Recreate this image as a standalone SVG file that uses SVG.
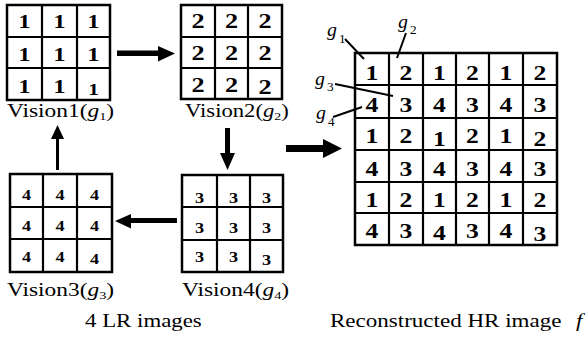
<svg xmlns="http://www.w3.org/2000/svg" width="587" height="338" viewBox="0 0 587 338">
<style>
.g{fill:#fff;stroke:#000;stroke-width:2.5}
.l{stroke:#000;stroke-width:2.2;fill:none}
.d{font-family:'Liberation Serif','Times New Roman','DejaVu Serif',serif;font-weight:bold;text-anchor:middle;fill:#000}
.t{font-family:'Liberation Serif','Times New Roman','DejaVu Serif',serif;font-size:18px;fill:#000}
.i{font-style:italic}
.ar{fill:#000}
.lead{stroke:#000;stroke-width:2;fill:none}
</style>
<rect width="587" height="338" fill="#fff"/>
<g id="vision1">
<rect class="g" x="7" y="5" width="103" height="95"/>
<path class="l" d="M42 5V100M77 5V100M7 37H110M7 68H110"/>
<g class="d" font-size="19">
<text transform="translate(24.5,28) scale(1.3,1)">1</text>
<text transform="translate(59.5,28) scale(1.3,1)">1</text>
<text transform="translate(93.5,28) scale(1.3,1)">1</text>
<text transform="translate(24.5,61) scale(1.3,1)">1</text>
<text transform="translate(59.5,61) scale(1.3,1)">1</text>
<text transform="translate(93.5,61) scale(1.3,1)">1</text>
<text transform="translate(24.5,93) scale(1.3,1)">1</text>
<text transform="translate(59.5,93) scale(1.3,1)">1</text>
<text transform="translate(93.5,95) scale(1.25,1)" font-size="17">1</text>
</g>
<text class="t" transform="translate(7,117) scale(1.3,1)">Vision1(<tspan class="i">g</tspan><tspan font-size="11" dy="3">1</tspan><tspan dy="-3">)</tspan></text>
</g>
<g id="vision2">
<rect class="g" x="181" y="5" width="101" height="94"/>
<path class="l" d="M215 5V99M248 5V99M181 37H282M181 68H282"/>
<g class="d" font-size="21">
<text transform="translate(198,28) scale(1.25,1)">2</text>
<text transform="translate(231.5,28) scale(1.25,1)">2</text>
<text transform="translate(265,28) scale(1.25,1)">2</text>
<text transform="translate(198,60) scale(1.25,1)">2</text>
<text transform="translate(231.5,60) scale(1.25,1)">2</text>
<text transform="translate(265,60) scale(1.25,1)">2</text>
<text transform="translate(198,92) scale(1.25,1)">2</text>
<text transform="translate(231.5,92) scale(1.25,1)">2</text>
<text transform="translate(265,94) scale(1.25,1)">2</text>
</g>
<text class="t" transform="translate(185,117) scale(1.26,1)">Vision2(<tspan class="i">g</tspan><tspan font-size="11" dy="3">2</tspan><tspan dy="-3">)</tspan></text>
</g>
<g id="vision3">
<rect class="g" x="10" y="174" width="102" height="98"/>
<path class="l" d="M43 174V272M77 174V272M10 207H112M10 239H112"/>
<g class="d" font-size="14">
<text transform="translate(26.5,200) scale(1.3,1)">4</text>
<text transform="translate(60,200) scale(1.3,1)">4</text>
<text transform="translate(94.5,200) scale(1.3,1)">4</text>
<text transform="translate(26.5,231) scale(1.3,1)">4</text>
<text transform="translate(60,231) scale(1.3,1)">4</text>
<text transform="translate(94.5,231) scale(1.3,1)">4</text>
<text transform="translate(26.5,262) scale(1.3,1)">4</text>
<text transform="translate(60,262) scale(1.3,1)">4</text>
<text transform="translate(94.5,264) scale(1.3,1)">4</text>
</g>
<text class="t" transform="translate(7,296) scale(1.3,1)">Vision3(<tspan class="i">g</tspan><tspan font-size="11" dy="3">3</tspan><tspan dy="-3">)</tspan></text>
</g>
<g id="vision4">
<rect class="g" x="182" y="175" width="101" height="97"/>
<path class="l" d="M217 175V272M250 175V272M182 207H283M182 240H283"/>
<g class="d" font-size="14">
<text transform="translate(199.5,203) scale(1.3,1)">3</text>
<text transform="translate(233.5,203) scale(1.3,1)">3</text>
<text transform="translate(266.5,203) scale(1.3,1)">3</text>
<text transform="translate(199.5,233) scale(1.3,1)">3</text>
<text transform="translate(233.5,233) scale(1.3,1)">3</text>
<text transform="translate(266.5,233) scale(1.3,1)">3</text>
<text transform="translate(199.5,262) scale(1.3,1)">3</text>
<text transform="translate(233.5,262) scale(1.3,1)">3</text>
<text transform="translate(266.5,265) scale(1.3,1)">3</text>
</g>
<text class="t" transform="translate(182,296) scale(1.3,1)">Vision4(<tspan class="i">g</tspan><tspan font-size="11" dy="3">4</tspan><tspan dy="-3">)</tspan></text>
</g>
<text class="t" transform="translate(85,327) scale(1.27,1)">4 LR images</text>
<g id="hr">
<rect class="g" x="355" y="53" width="202" height="192"/>
<path class="l" d="M389 53V245M423 53V245M456 53V245M489 53V245M523 53V245M355 85H557M355 118H557M355 150H557M355 182H557M355 213H557"/>
<g class="d" font-size="21">
<text transform="translate(372,80) scale(1.22,1)">1</text>
<text transform="translate(406,80) scale(1.22,1)">2</text>
<text transform="translate(439.5,80) scale(1.22,1)">1</text>
<text transform="translate(472.5,80) scale(1.22,1)">2</text>
<text transform="translate(506,80) scale(1.22,1)">1</text>
<text transform="translate(540,80) scale(1.22,1)">2</text>
<text transform="translate(372,112) scale(1.22,1)">4</text>
<text transform="translate(406,112) scale(1.22,1)">3</text>
<text transform="translate(439.5,112) scale(1.22,1)">4</text>
<text transform="translate(472.5,112) scale(1.22,1)">3</text>
<text transform="translate(506,112) scale(1.22,1)">4</text>
<text transform="translate(540,112) scale(1.22,1)">3</text>
<text transform="translate(372,143) scale(1.22,1)">1</text>
<text transform="translate(406,143) scale(1.22,1)">2</text>
<text transform="translate(439.5,146) scale(1.22,1)">1</text>
<text transform="translate(472.5,143) scale(1.22,1)">2</text>
<text transform="translate(506,143) scale(1.22,1)">1</text>
<text transform="translate(540,146) scale(1.22,1)">2</text>
<text transform="translate(372,176) scale(1.22,1)">4</text>
<text transform="translate(406,176) scale(1.22,1)">3</text>
<text transform="translate(439.5,176) scale(1.22,1)">4</text>
<text transform="translate(472.5,176) scale(1.22,1)">3</text>
<text transform="translate(506,176) scale(1.22,1)">4</text>
<text transform="translate(540,176) scale(1.22,1)">3</text>
<text transform="translate(372,207) scale(1.22,1)">1</text>
<text transform="translate(406,207) scale(1.22,1)">2</text>
<text transform="translate(439.5,207) scale(1.22,1)">1</text>
<text transform="translate(472.5,207) scale(1.22,1)">2</text>
<text transform="translate(506,207) scale(1.22,1)">1</text>
<text transform="translate(540,207) scale(1.22,1)">2</text>
<text transform="translate(372,238) scale(1.22,1)">4</text>
<text transform="translate(406,238) scale(1.22,1)">3</text>
<text transform="translate(439.5,240) scale(1.22,1)">4</text>
<text transform="translate(472.5,238) scale(1.22,1)">3</text>
<text transform="translate(506,238) scale(1.22,1)">4</text>
<text transform="translate(540,241) scale(1.22,1)">3</text>
</g>
<g class="t" font-size="20">
<text class="i" transform="translate(327,36) scale(1.1,1)">g</text>
<text font-size="12" transform="translate(339,43) scale(1.1,1)">1</text>
<text class="i" transform="translate(398,28) scale(1.1,1)">g</text>
<text font-size="12" transform="translate(410,34) scale(1.1,1)">2</text>
<text class="i" transform="translate(315,85) scale(1.1,1)">g</text>
<text font-size="12" transform="translate(327,91) scale(1.1,1)">3</text>
<text class="i" transform="translate(316,119) scale(1.1,1)">g</text>
<text font-size="12" transform="translate(328,126) scale(1.1,1)">4</text>
</g>
<path class="lead" d="M345 39L364 59M406 33L397 58M335 84L393 96M333 117L362 107"/>
<text class="t" transform="translate(330,327) scale(1.28,1)">Reconstructed HR image</text>
<text class="t i" transform="translate(576,327) scale(1.28,1)">f</text>
</g>
<g id="connectors">
<path class="ar" d="M117 50.5H158V46L175 53.5L158 61.5V56H117Z"/>
<path class="ar" d="M56 170V139H51L57.5 125L64 139H59V170Z"/>
<path class="ar" d="M225 128V153H220L227.5 170L235 153H230V128Z"/>
<path class="ar" d="M177 218V223H131V228.5L115 221L131 214V218Z"/>
<path class="ar" d="M286 145H323V139L342 148.5L323 158V152H286Z"/>
</g>
</svg>
